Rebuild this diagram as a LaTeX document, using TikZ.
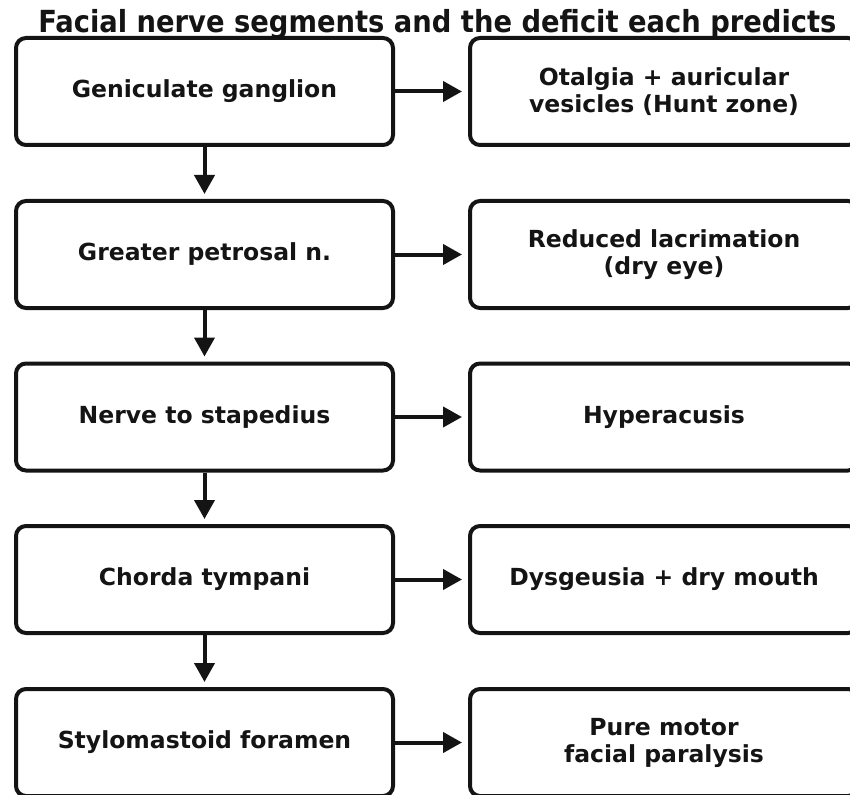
\documentclass[tikz,border=0pt]{standalone}
\usepackage{fontspec}
\setmainfont{DejaVu Sans}
\newfontfamily\titlefont{DejaVu Sans Condensed}
\usetikzlibrary{positioning,arrows.meta}
\definecolor{inkcol}{HTML}{141414}

\begin{document}
\begin{tikzpicture}[x=1pt,y=-1pt,
    every node/.style={font=\bfseries\fontsize{23.5}{27}\selectfont, text=inkcol},
    segbox/.style={draw=inkcol, line width=4pt, rounded corners=10pt, minimum width=377pt, minimum height=107pt, align=center},
    defbox/.style={segbox, minimum width=388pt},
    arr/.style={draw=inkcol, line width=4pt, -{Triangle[length=19pt,width=20pt]}}]
      \useasboundingbox (0,0) rectangle (850,794);
      % segments
      \node[segbox] (seg1) at (204.5,91.5) {Geniculate ganglion};
      \node[segbox] (seg2) at (204.5,254.5) {Greater petrosal n.};
      \node[segbox] (seg3) at (204.5,417) {Nerve to stapedius};
      \node[segbox] (seg4) at (204.5,579.5) {Chorda tympani};
      \node[segbox] (seg5) at (204.5,742.5) {Stylomastoid foramen};
      % deficits
      \node[defbox] (def1) at (664,91.5) {Otalgia + auricular\\vesicles (Hunt zone)};
      \node[defbox] (def2) at (664,254.5) {Reduced lacrimation\\(dry eye)};
      \node[defbox] (def3) at (664,417) {Hyperacusis};
      \node[defbox] (def4) at (664,579.5) {Dysgeusia + dry mouth};
      \node[defbox] (def5) at (664,742.5) {Pure motor\\facial paralysis};
      \draw[arr, shorten >=5pt] (seg1) -- (seg2);
      \draw[arr, shorten >=5pt] (seg2) -- (seg3);
      \draw[arr, shorten >=5pt] (seg3) -- (seg4);
      \draw[arr, shorten >=5pt] (seg4) -- (seg5);
      \draw[arr, shorten >=6pt] (seg1) -- (def1);
      \draw[arr, shorten >=6pt] (seg2) -- (def2);
      \draw[arr, shorten >=6pt] (seg3) -- (def3);
      \draw[arr, shorten >=6pt] (seg4) -- (def4);
      \draw[arr, shorten >=6pt] (seg5) -- (def5);
      \node[font=\titlefont\bfseries\fontsize{30.4}{32}\selectfont, anchor=base] (title) at (437.5,33) {Facial nerve segments and the deficit each predicts};
    \end{tikzpicture}
\end{document}
